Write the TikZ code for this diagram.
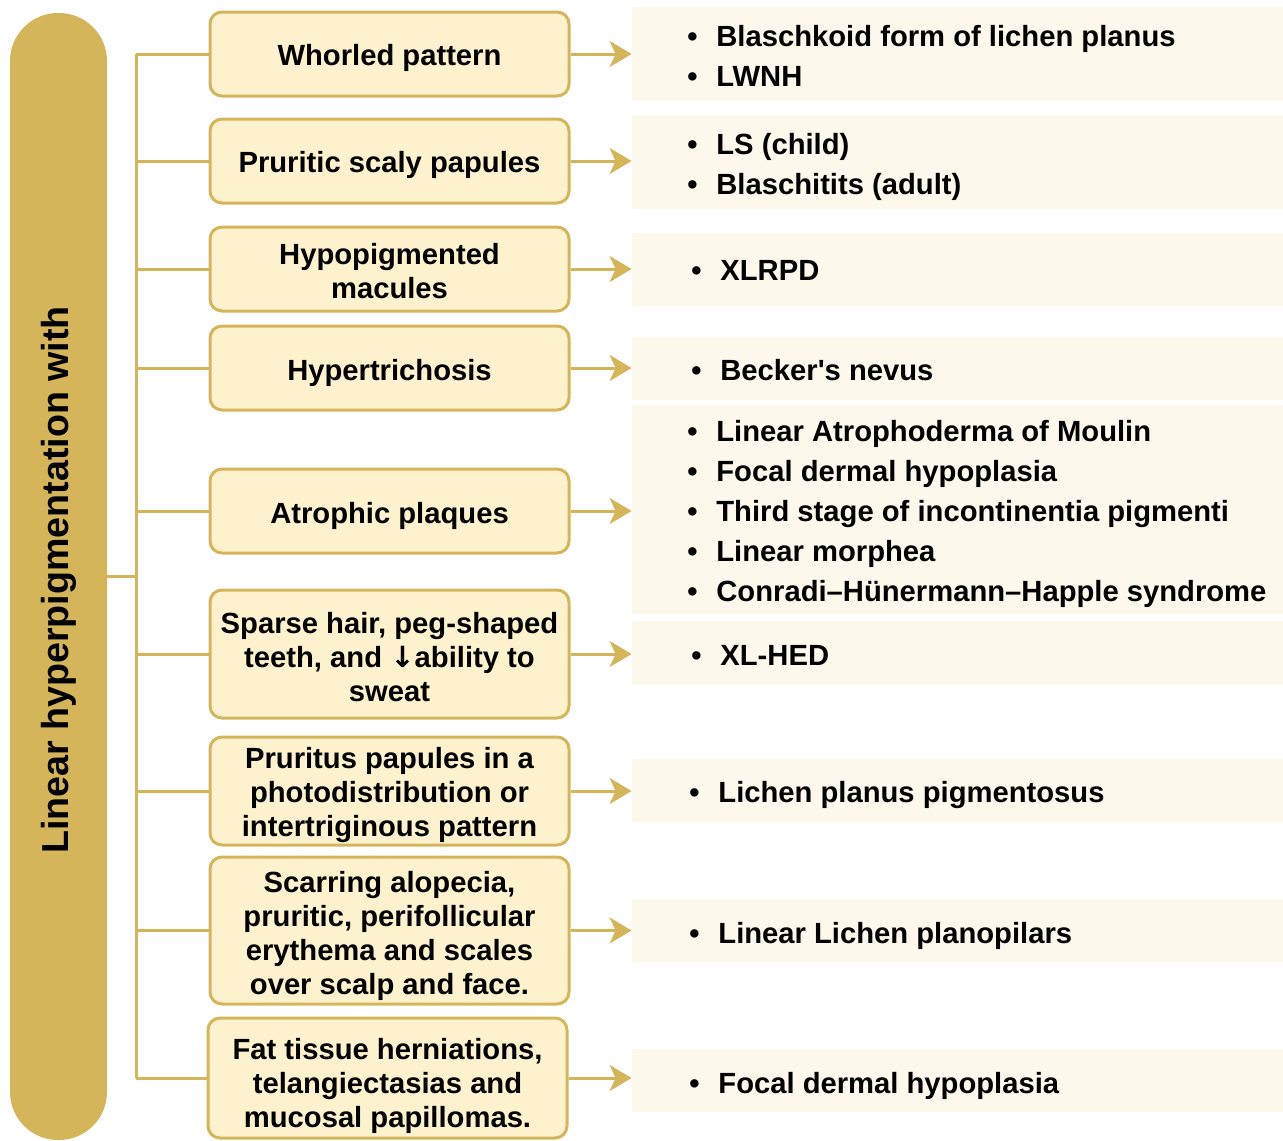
\documentclass[tikz,border=0pt]{standalone}
\usepackage{fontspec}
\setmainfont{Liberation Sans}[Ligatures=TeXOff]
\newfontfamily\arrowfont{DejaVu Sans}
\usetikzlibrary{arrows.meta}
\definecolor{gold}{HTML}{D5B55A}
\definecolor{boxfill}{HTML}{FEF1CD}
\definecolor{panelfill}{HTML}{FCF8EB}
\newcommand{\itm}[1]{\makebox[14.5pt][l]{•}#1}
\begin{document}
\begin{tikzpicture}[x=0.5pt,y=-0.5pt,
  every node/.style={font=\fontsize{14.6}{17}\selectfont\bfseries},
  cbox/.style={draw=gold, line width=1.5pt, fill=boxfill, rounded corners=6pt,
    minimum width=179.5pt, inner sep=0pt},
  btext/.style={align=center, inner sep=0pt},
  panel/.style={fill=panelfill, draw=none, minimum width=325.5pt, inner sep=0pt},
  list/.style={anchor=west, align=left, inner sep=0pt,
    font=\fontsize{14.6}{20}\selectfont\bfseries},
  conn/.style={draw=gold, line width=1.5pt},
  arr/.style={draw=gold, line width=1.5pt, -{Stealth[length=11pt,width=13pt,inset=3pt]}}]
\useasboundingbox (0,0) rectangle (1283,1140);

% title bar
\node[fill=gold, rounded corners=24pt, minimum width=48.5pt, minimum height=563.5pt, inner sep=0pt] (bar) at (58.5,576.5) {};
\node[rotate=90, font=\fontsize{18.8}{22}\selectfont\bfseries] (title) at (59,580) {Linear hyperpigmentation with};

% boxes
\node[cbox, minimum height=42pt] (b1) at (389.5,54) {};
\node[cbox, minimum height=42pt] (b2) at (389.5,161) {};
\node[cbox, minimum height=42pt] (b3) at (389.5,269) {};
\node[cbox, minimum height=42pt] (b4) at (389.5,368) {};
\node[cbox, minimum height=42pt] (b5) at (389.5,511) {};
\node[cbox, minimum height=64pt] (b6) at (389.5,654) {};
\node[cbox, minimum height=54pt] (b7) at (389.5,791) {};
\node[cbox, minimum height=73.5pt] (b8) at (389.5,930.5) {};
\node[cbox, minimum height=60pt] (b9) at (387.5,1078) {};

\node[btext] (bt1) at ([yshift=-2pt]b1.center) {Whorled pattern};
\node[btext] (bt2) at ([yshift=-2pt]b2.center) {Pruritic scaly papules};
\node[btext] (bt3) at ([yshift=-1pt]b3.center) {Hypopigmented\\macules};
\node[btext] (bt4) at ([yshift=-2.5pt]b4.center) {Hypertrichosis};
\node[btext] (bt5) at ([yshift=-2.5pt]b5.center) {Atrophic plaques};
\node[btext] (bt6) at ([yshift=-1.5pt]b6.center) {Sparse hair, peg-shaped\\teeth, and {\arrowfont ↓}ability to\\sweat};
\node[btext] (bt7) at ([yshift=-2pt]b7.center) {Pruritus papules in a\\photodistribution or\\intertriginous pattern};
\node[btext] (bt8) at ([yshift=-2.5pt]b8.center) {Scarring alopecia,\\pruritic, perifollicular\\erythema and scales\\over scalp and face.};
\node[btext] (bt9) at ([yshift=-4pt]b9.center) {Fat tissue herniations,\\telangiectasias and\\mucosal papillomas.};

% panels
\node[panel, minimum height=47pt] (p1) at (957.5,54) {};
\node[panel, minimum height=47pt] (p2) at (957.5,162) {};
\node[panel, minimum height=36.5pt] (p3) at (957.5,269.5) {};
\node[panel, minimum height=31.5pt] (p4) at (957.5,368.5) {};
\node[panel, minimum height=104.5pt] (p5) at (957.5,509.5) {};
\node[panel, minimum height=32pt] (p6) at (957.5,653) {};
\node[panel, minimum height=31.5pt] (p7) at (957.5,790.5) {};
\node[panel, minimum height=31.5pt] (p8) at (957.5,930.5) {};
\node[panel, minimum height=31.5pt] (p9) at (957.5,1080.5) {};

% lists
\node[list] (t1) at (687,56) {\itm{Blaschkoid form of lichen planus}\\\itm{LWNH}};
\node[list] (t2) at (687,167) {\itm{LS (child)}\\\itm{Blaschitits (adult)}};
\node[list] (t3) at (691,270) {\itm{XLRPD}};
\node[list] (t4) at (691,370) {\itm{Becker's nevus}};
\node[list] (t5) at (687,514) {\itm{Linear Atrophoderma of Moulin}\\\itm{Focal dermal hypoplasia}\\\itm{Third stage of incontinentia pigmenti}\\\itm{Linear morphea}\\\itm{Conradi–Hünermann–Happle syndrome}};
\node[list] (t6) at (691,655) {\itm{XL-HED}};
\node[list] (t7) at (689,795) {\itm{Lichen planus pigmentosus}};
\node[list] (t8) at (689,936) {\itm{Linear Lichen planopilars}};
\node[list] (t9) at (689,1086) {\itm{Focal dermal hypoplasia}};

% bracket
\coordinate (trunk) at (136,576.5);
\draw[conn] (bar.east) -- (trunk);
\draw[conn] (trunk |- b1.west) -- (trunk |- b9.west);
\foreach \i in {1,...,9} {
  \draw[conn] (trunk |- b\i.west) -- (b\i.west);
  \draw[arr] (b\i.east) -- (p\i.west |- b\i.east);
}
\end{tikzpicture}
\end{document}
